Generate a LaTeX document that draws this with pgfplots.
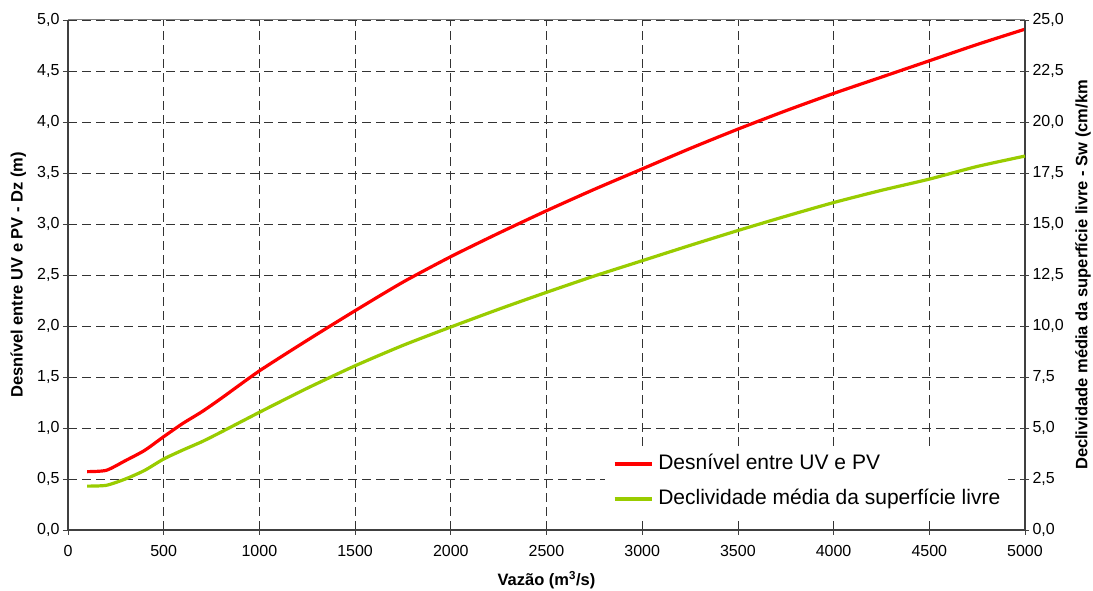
\documentclass[border=0pt]{standalone}
\usepackage{fontspec}
\setmainfont{Liberation Sans}
\usepackage{pgfplots}
\pgfplotsset{compat=1.18}
\definecolor{dzred}{HTML}{FF0000}
\definecolor{swgreen}{HTML}{99CC00}
\definecolor{axisgray}{HTML}{404040}

% Dz: head difference between upstream and downstream gauges (m)
\pgfplotstableread{
q     dz
100   0.572
200   0.585
300   0.680
400   0.78
500   0.915
600   1.045
700   1.16
800   1.29
1000  1.56
1250  1.86
1500  2.15
1750  2.43
2000  2.68
2250  2.91
2500  3.13
2750  3.34
3000  3.54
3250  3.74
3500  3.93
3750  4.11
4000  4.28
4250  4.44
4500  4.60
4750  4.76
5000  4.91
}\dztable
% Sw: mean free-surface slope (cm/km)
\pgfplotstableread{
q     sw
100   2.15
200   2.19
300   2.50
400   2.92
500   3.48
600   3.92
700   4.33
800   4.80
1000  5.77
1250  6.95
1500  8.05
1750  9.05
2000  9.95
2250  10.82
2500  11.65
2750  12.45
3000  13.2
3250  13.95
3500  14.68
3750  15.38
4000  16.05
4250  16.65
4500  17.2
4750  17.82
5000  18.33
}\swtable

\pgfplotsset{
  frame/.style={
    scale only axis, width=957pt, height=510pt,
    at={(68pt,61pt)}, anchor=south west,
    xmin=0, xmax=5000,
    tick label style={font=\fontsize{16}{19}\selectfont},
    /pgf/number format/assume math mode=true,
    major tick length=5pt,
    tick style={axisgray, line width=0.8pt},
    axis line style={axisgray, line width=1.3pt},
  },
}

\begin{document}
\begin{tikzpicture}
\useasboundingbox (0,0) rectangle (1093pt,591pt);
\begin{axis}[frame,
  axis x line*=bottom, axis y line*=left,
  tick align=outside,
  ymin=0, ymax=5,
  ytick={0,0.5,1,1.5,2,2.5,3,3.5,4,4.5,5},
  xtick={0,500,1000,1500,2000,2500,3000,3500,4000,4500,5000},
  grid=major,
  grid style={black!80, dash pattern=on 9pt off 5pt, line width=0.8pt},
  yticklabel style={/pgf/number format/.cd, fixed, fixed zerofill, precision=1, use comma},
  xticklabel style={/pgf/number format/1000 sep={}, yshift=-7pt},
  xlabel={Vazão (m\textsuperscript{3}/s)},
  ylabel={Desnível entre UV e PV - Dz (m)},
  every axis x label/.style={at={(axis description cs:0.5,-0.098)}, anchor=center,
    font=\fontsize{16.5}{20}\bfseries\selectfont},
  every axis y label/.style={at={(axis description cs:-0.052,0.5)}, rotate=90, anchor=center,
    font=\fontsize{16.5}{20}\bfseries\selectfont},
]
\addplot[dzred, line width=3.2pt, smooth, tension=0.4] table[x=q, y=dz] {\dztable};
\draw[gray, line width=1pt] (rel axis cs:0,1) -- (rel axis cs:1,1);
\end{axis}
\begin{axis}[frame,
  axis y line*=right, axis x line=none,
  tick align=center, major tick length=8pt,
  ymin=0, ymax=25,
  ytick={0,2.5,5,7.5,10,12.5,15,17.5,20,22.5,25},
  yticklabel style={/pgf/number format/.cd, fixed, fixed zerofill, precision=1, use comma},
  ylabel={Declividade média da superfície livre - Sw (cm/km},
  every axis y label/.style={at={(axis description cs:1.0606,0.5)}, rotate=90, anchor=center,
    font=\fontsize{16.5}{20}\bfseries\selectfont},
  legend cell align=left,
  legend image code/.code={\draw[#1] (0pt,0pt) -- (37pt,0pt);},
  legend style={at={(0.561,0.164)}, anchor=north west, draw=none, fill=white,
    font=\fontsize{21}{25}\selectfont, row sep=14pt, column sep=5pt,
    inner xsep=8pt, inner ysep=7pt,
    nodes={inner sep=0pt, text height=16pt, text depth=5pt}},
]
\addlegendimage{dzred, line width=3.2pt}
\addlegendentry{Desnível entre UV e PV}
\addplot[swgreen, line width=3.2pt, smooth, tension=0.4] table[x=q, y=sw] {\swtable};
\addlegendentry{Declividade média da superfície livre}
\end{axis}
\end{tikzpicture}
\end{document}
